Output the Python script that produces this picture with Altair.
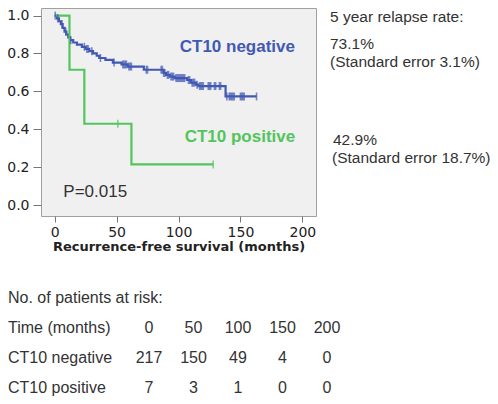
import altair as alt
import pandas as pd

# ---------------- data ----------------
neg_time = [0, 2, 3.5, 5, 6.5, 8, 9.5, 11, 12.5, 15, 18, 22, 25, 28, 31, 34, 36, 41, 47, 54, 59,
            72, 88, 90, 93, 97, 107, 110, 114, 116, 138, 163]
neg_surv = [1.0, 0.985, 0.97, 0.955, 0.935, 0.915, 0.9, 0.885, 0.87, 0.858, 0.847, 0.835, 0.824,
            0.812, 0.8, 0.788, 0.776, 0.766, 0.752, 0.742, 0.731, 0.714, 0.697, 0.687, 0.678, 0.67,
            0.66, 0.646, 0.635, 0.628, 0.573, 0.573]
neg_censor = [0.5, 2.5, 6, 9, 13, 24, 26, 27, 30, 37, 48, 55, 56, 57, 58, 60, 61, 62, 74, 75, 86, 87,
              88, 89, 91, 92, 94, 95, 96, 98, 99, 100, 101, 102, 103, 104, 105, 108, 109, 111, 112,
              113, 115, 117, 118, 119, 120, 124, 125, 126, 129, 130, 133, 134, 139, 141, 142, 143,
              144, 145, 150, 151, 152, 153, 163]

pos_time = [0, 12, 24, 62, 128]
pos_surv = [1.0, 0.714, 0.429, 0.214, 0.214]
pos_censor = [51, 128]

groups = ["CT10 negative", "CT10 positive"]
line_colors = ["#4259b4", "#52c55c"]
label_colors = ["#27338f", "#35a43d"]

x_ticks = [0, 50, 100, 150, 200]
y_ticks = [0.0, 0.2, 0.4, 0.6, 0.8, 1.0]

risk_times = ["0", "50", "100", "150", "200"]
neg_at_risk = [217, 150, 49, 4, 0]
pos_at_risk = [7, 3, 1, 0, 0]

right_notes = ["5 year relapse rate:", "73.1%", "(Standard error 3.1%)", "42.9%",
               "(Standard error 18.7%)"]
p_value = "P=0.015"

# ---------------- tables ----------------
def surv_at(times, survs, t):
    s = survs[0]
    for ti, si in zip(times, survs):
        if ti <= t:
            s = si
    return s

line_df = pd.concat([
    pd.DataFrame({"t": neg_time, "s": neg_surv, "g": groups[0]}),
    pd.DataFrame({"t": pos_time, "s": pos_surv, "g": groups[1]}),
])
cens_df = pd.concat([
    pd.DataFrame({"t": neg_censor, "s": [surv_at(neg_time, neg_surv, c) for c in neg_censor], "g": groups[0]}),
    pd.DataFrame({"t": pos_censor, "s": [surv_at(pos_time, pos_surv, c) for c in pos_censor], "g": groups[1]}),
])
label_df = pd.DataFrame({"t": [101, 105], "s": [0.836, 0.36], "g": groups})
p_df = pd.DataFrame({"t": [7], "s": [0.07], "txt": [p_value]})

FONT_AX = "DejaVu Sans"
FONT_TXT = "Liberation Sans"

x_enc = alt.X("t:Q", scale=alt.Scale(domain=[-11, 211], nice=False, zero=False),
              axis=alt.Axis(values=x_ticks, title="Recurrence-free survival (months)", grid=False,
                            domain=False, tickSize=6, tickColor="#777", labelFont=FONT_AX,
                            labelFontSize=14, labelColor="#222", titleFont=FONT_AX,
                            titleFontSize=13, titleFontWeight="bold", titleColor="#222",
                            labelPadding=3, titlePadding=1))
y_enc = alt.Y("s:Q", scale=alt.Scale(domain=[-0.058, 1.04], nice=False, zero=False),
              axis=alt.Axis(values=y_ticks, format=".1f", title=None, grid=False, domain=False,
                            tickSize=8, tickColor="#777", labelFont=FONT_AX, labelFontSize=14,
                            labelColor="#222", labelPadding=4))
col_enc = alt.Color("g:N", scale=alt.Scale(domain=groups, range=line_colors), legend=None)

lines = alt.Chart(line_df).mark_line(interpolate="step-after", strokeWidth=2.2).encode(
    x=x_enc, y=y_enc, color=col_enc, detail="g:N")
ticks = alt.Chart(cens_df).mark_tick(orient="vertical", size=8, thickness=1.6).encode(
    x=x_enc, y=y_enc, color=col_enc)
labels = alt.Chart(label_df).mark_text(font=FONT_TXT, fontSize=17, fontWeight="bold",
                                       align="left", baseline="middle").encode(
    x=x_enc, y=y_enc, text="g:N",
    color=alt.Color("g:N", scale=alt.Scale(domain=groups, range=label_colors), legend=None))
ptext = alt.Chart(p_df).mark_text(font=FONT_TXT, fontSize=17, color="#333", align="left",
                                  baseline="middle").encode(x=x_enc, y=y_enc, text="txt:N")

note_pos = [(289, 8.5), (289, 36), (289, 54), (292, 132), (291, 150)]
one = pd.DataFrame({"a": [0]})
notes = [alt.Chart(one).mark_text(font=FONT_TXT, fontSize=15.5, color="#333", align="left",
                                  baseline="middle").encode(
    x=alt.value(px), y=alt.value(py), text=alt.value(txt))
    for txt, (px, py) in zip(right_notes, note_pos)]

plot_group = alt.layer(lines, ticks, labels, ptext, *notes)

# ---------------- risk table ----------------
row_names = ["No. of patients at risk:", "Time (months)", groups[0], groups[1]]
cells = []
for i, tm in enumerate(risk_times):
    cells.append({"row": row_names[1], "col": tm, "txt": tm})
    cells.append({"row": row_names[2], "col": tm, "txt": str(neg_at_risk[i])})
    cells.append({"row": row_names[3], "col": tm, "txt": str(pos_at_risk[i])})
cell_df = pd.DataFrame(cells)
rowlab_df = pd.DataFrame({"row": row_names})

row_enc = alt.Y("row:O", sort=row_names, axis=None,
                scale=alt.Scale(type="point", range=[290, 380], padding=0))
tcol_enc = alt.X("col:O", sort=risk_times, axis=None,
                 scale=alt.Scale(type="point", range=[108, 286], padding=0))

cell_text = alt.Chart(cell_df).mark_text(font=FONT_TXT, fontSize=16, color="#333",
                                         align="center", baseline="middle").encode(
    x=tcol_enc, y=row_enc, text="txt:N")
row_text = alt.Chart(rowlab_df).mark_text(font=FONT_TXT, fontSize=16, color="#333",
                                          align="left", baseline="middle").encode(
    x=alt.value(-33), y=row_enc, text="row:N")
table_group = alt.layer(cell_text, row_text)

chart = alt.layer(plot_group, table_group).resolve_scale(
    x="independent", y="independent", color="independent"
).properties(
    width=275, height=208, autosize="none",
    padding={"left": 33, "top": 0, "right": 174, "bottom": 180},
).configure_view(fill="#f0f0f0", stroke="#a0a0a0", strokeWidth=1)

chart.save("out.html", embed_options={"renderer": "svg", "actions": False})
